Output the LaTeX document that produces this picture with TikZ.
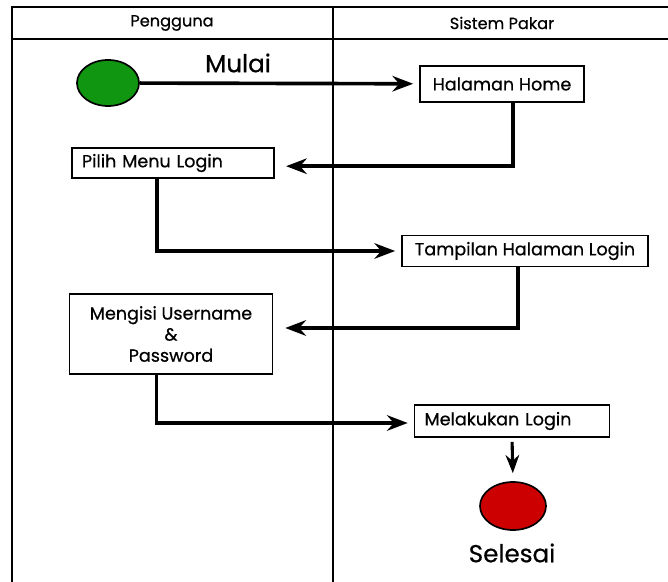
\documentclass[tikz,border=0pt]{standalone}
\usepackage{fontspec}
\setmainfont{Poppins}[FakeBold=0.6]
\usetikzlibrary{arrows.meta,positioning,calc,shapes.geometric}
\definecolor{StartGreen}{RGB}{16,150,16}
\definecolor{EndRed}{RGB}{204,0,0}

\begin{document}
\begin{tikzpicture}[
    x=0.025cm, y=-0.025cm,
    font=\fontsize{12.5}{15}\selectfont,
    lane/.style={line width=1.3pt},
    act/.style={draw, line width=1.2pt, fill=white, inner sep=0pt, minimum height=0.8cm},
    actl/.style={act, align=left, inner xsep=0.25cm},
    flow/.style={->, line width=2.6pt, shorten >=0.15cm},
    >=Stealth
  ]
  \useasboundingbox (0,0) rectangle (668,582);

  % Swimlanes
  \draw[lane] (12,582) -- (12,7) -- (670,7);
  \draw[lane] (12,39) -- (670,39);
  \draw[lane] (333,7) -- (333,582);
  \node[font=\fontsize{11.5}{13}\selectfont] (hpengguna) at (172,23) {Pengguna};
  \node[font=\fontsize{11.5}{13}\selectfont] (hsistem) at (502,23) {Sistem Pakar};

  % Start
  \node[ellipse, draw, line width=1.2pt, fill=StartGreen, minimum width=1.55cm, minimum height=1.15cm,
        inner sep=0pt] (start) at (108,83) {};
  \node[font=\fontsize{17.5}{20}\selectfont] (mulai) at (238,63) {Mulai};

  % Aktivitas
  \node[act, minimum width=4.1cm, minimum height=0.9cm] (home) at (502,84) {Halaman Home};
  \node[actl, text width=4.55cm, minimum height=0.75cm] (pilih) at (173,163) {Pilih Menu Login};
  \node[act, minimum width=6.15cm, minimum height=0.78cm] (tampil) at (525,251) {Tampilan Halaman Login};
  \node[act, align=center, minimum width=5.07cm, minimum height=2cm] (isi) at (171,334)
    {Mengisi Username\\\&\\Password};
  \node[actl, text width=4.37cm, minimum height=0.8cm] (login) at (512,421) {Melakukan Login};

  % End
  \node[ellipse, draw, line width=1.2pt, fill=EndRed, minimum width=1.65cm, minimum height=1.2cm,
        inner sep=0pt] (selesai) at (513,506) {};
  \node[font=\fontsize{17.5}{20}\selectfont] (lselesai) at (512,553) {Selesai};

  % Alur
  \draw[flow] (start) -- (home);
  \draw[flow, shorten >=0.28cm] ([xshift=0.28cm]home.south) |- ([yshift=-0.08cm]pilih.east);
  \draw[flow] ([xshift=-0.4cm]pilih.south) |- (tampil.west);
  \draw[flow, shorten >=0.3cm] ([xshift=-0.18cm]tampil.south) |- ([yshift=0.15cm]isi.east);
  \draw[flow] ([xshift=-0.36cm]isi.south) |- ([yshift=-0.05cm]login.west);
  \draw[->, line width=2.2pt, shorten <=0.1cm, shorten >=0.2cm] (login.south) -- (selesai.north);

\end{tikzpicture}
\end{document}
